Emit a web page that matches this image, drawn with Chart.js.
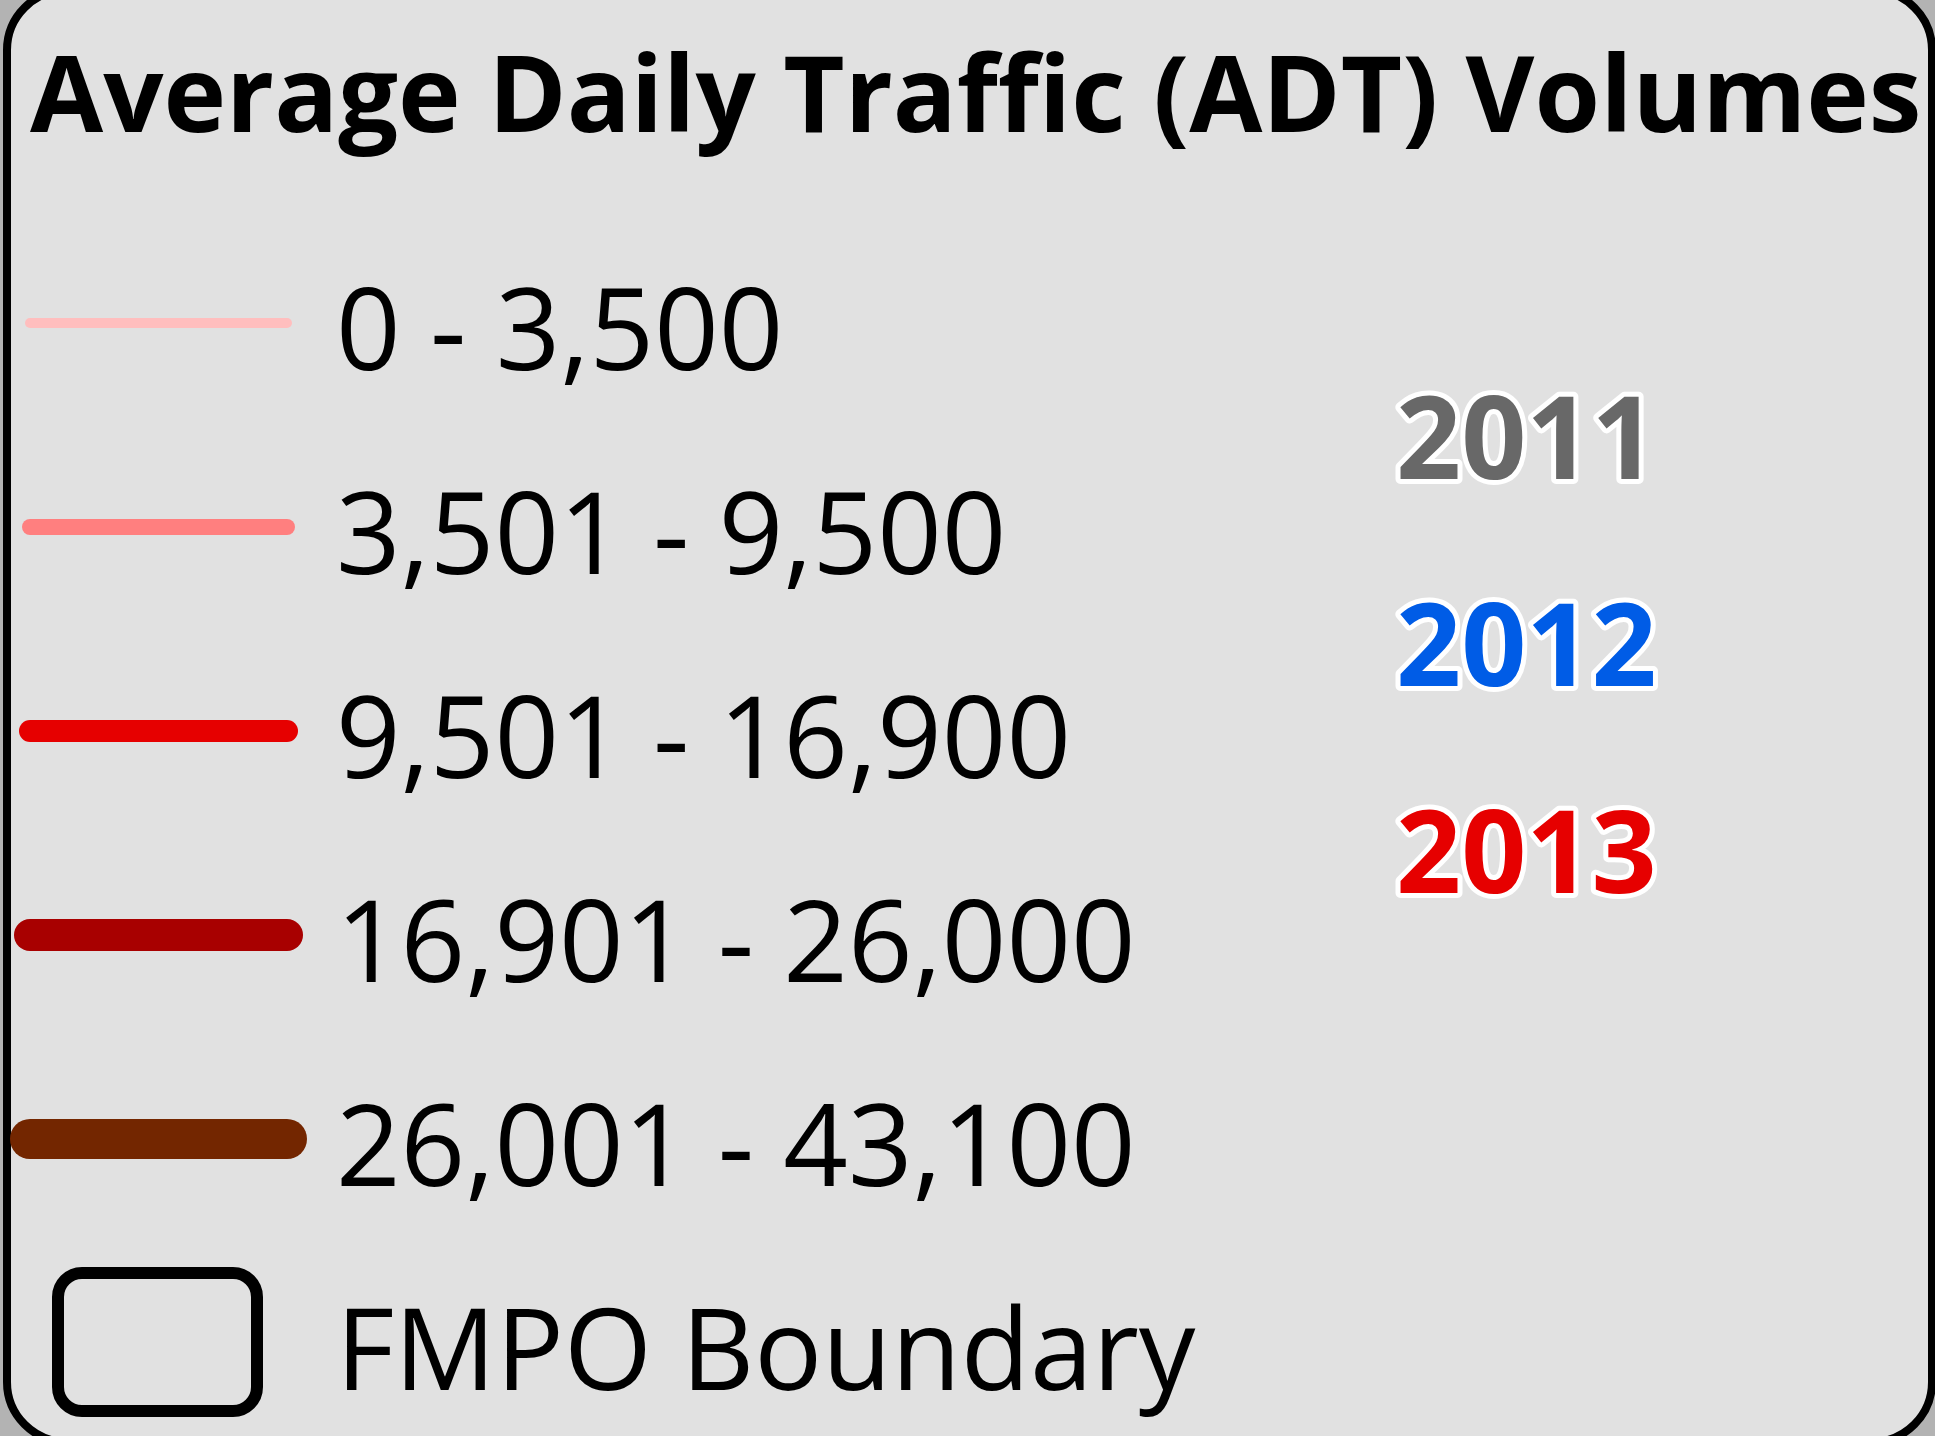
<!DOCTYPE html>
<html>
<head>
<meta charset="utf-8">
<title>Average Daily Traffic (ADT) Volumes</title>
<script src="https://cdn.jsdelivr.net/npm/chart.js@4.4.1/dist/chart.umd.min.js"></script>
<style>
  html, body { margin: 0; padding: 0; background: #b3b3b3; }
  canvas { display: block; }
</style>
</head>
<body>
<canvas id="adtChart" width="1935" height="1436"></canvas>
<script>
// ADT classes, vehicles per day
const classLabels = ['0 - 3,500', '3,501 - 9,500', '9,501 - 16,900', '16,901 - 26,000', '26,001 - 43,100'];
const boundaryLabel = 'FMPO Boundary';
const years = ['2011', '2012', '2013'];

// styles
const classColors = ['#ffbebe', '#ff7f7f', '#e60000', '#a80000', '#732600'];
const classWidths = [10, 16, 22, 32, 40];
const yearColors = ['#686868', '#005ce6', '#e60000'];

const rowLabels = classLabels.concat([boundaryLabel]);
const W = 1935, H = 1436;

// grey surround and the rounded panel
const framePlugin = {
    id: 'frame',
    beforeDraw(chart) {
        const ctx = chart.ctx;
        ctx.save();
        ctx.fillStyle = '#b3b3b3';
        ctx.fillRect(0, 0, chart.width, chart.height);
        ctx.beginPath();
        ctx.roundRect(7, -10, 1925, 1452, 60);
        ctx.fillStyle = '#e1e1e1';
        ctx.fill();
        ctx.lineWidth = 8;
        ctx.strokeStyle = '#000';
        ctx.stroke();
        ctx.restore();
    }
};

// boundary symbol on the last row, years on the right
const extrasPlugin = {
    id: 'extras',
    afterDatasetsDraw(chart) {
        const ctx = chart.ctx;
        const yBox = chart.scales.y.getPixelForTick(rowLabels.length - 1);
        ctx.save();
        ctx.beginPath();
        ctx.roundRect(58, yBox - 70, 199, 138, 24);
        ctx.lineWidth = 12;
        ctx.strokeStyle = '#000';
        ctx.stroke();

        ctx.font = 'bold 114px "Open Sans"';
        ctx.textAlign = 'left';
        ctx.textBaseline = 'alphabetic';
        ctx.lineJoin = 'round';
        years.forEach((yr, i) => {
            const y = 479 + i * 207;
            ctx.lineWidth = 10;
            ctx.strokeStyle = '#fff';
            ctx.strokeText(yr, 1396, y);
            ctx.fillStyle = yearColors[i];
            ctx.fillText(yr, 1396, y);
        });
        ctx.restore();
    }
};

new Chart(document.getElementById('adtChart'), {
    type: 'line',
    data: {
        labels: ['', ''],
        datasets: classLabels.map((label, i) => ({
            label: label,
            data: [label, label],
            borderColor: classColors[i],
            borderWidth: classWidths[i],
            borderCapStyle: 'round',
            pointRadius: 0,
            clip: false
        }))
    },
    options: {
        responsive: false,
        animation: false,
        layout: {
            padding: { left: 30, right: 0, top: 0, bottom: 93 }
        },
        scales: {
            x: { type: 'category', display: false },
            y: {
                type: 'category',
                labels: rowLabels,
                position: 'right',
                grid: { display: false, drawTicks: false },
                border: { display: false },
                ticks: {
                    color: '#000',
                    autoSkip: false,
                    padding: 49,
                    labelOffset: 15,
                    font: { family: 'Open Sans', size: 113 }
                },
                afterFit(scale) {
                    scale.width = W - 287;
                    scale.paddingTop = 0;
                    scale.paddingBottom = 0;
                }
            }
        },
        plugins: {
            legend: { display: false },
            tooltip: { enabled: false },
            title: {
                display: true,
                text: 'Average Daily Traffic (ADT) Volumes',
                align: 'start',
                color: '#000',
                font: { family: 'Open Sans', size: 106, weight: 'bold', lineHeight: 1 },
                padding: { top: 49, bottom: 168 }
            }
        }
    },
    plugins: [framePlugin, extrasPlugin]
});
</script>
</body>
</html>
